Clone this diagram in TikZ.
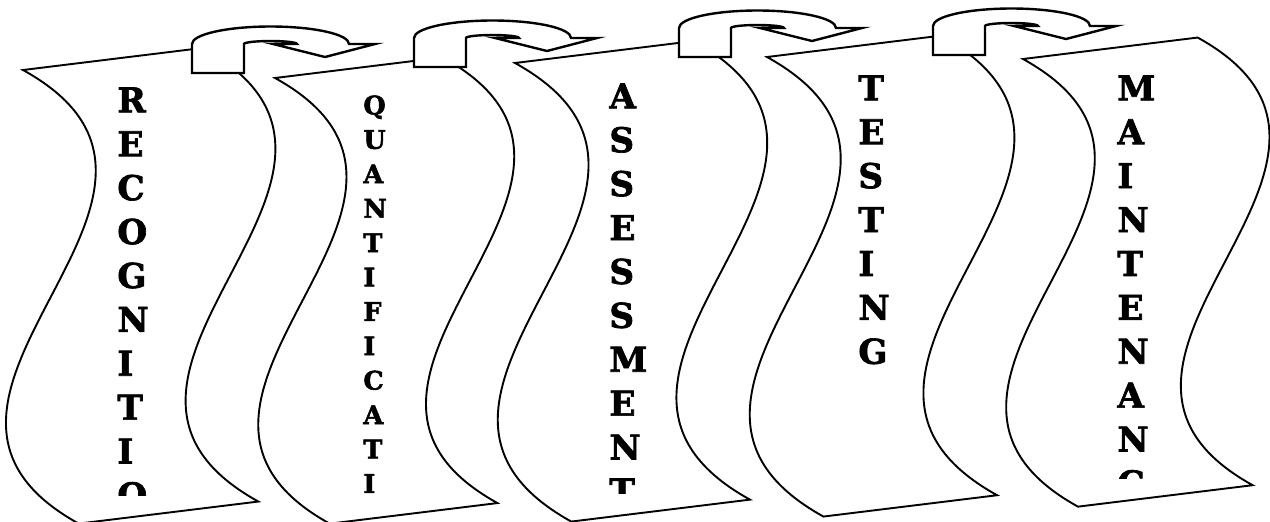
\documentclass[tikz,border=0pt]{standalone}
\usepackage{fontspec}
\setmainfont{DejaVu Serif}[BoldFeatures={FakeBold=2}]

\begin{document}
\begin{tikzpicture}[
  x=0.5pt, y=-0.5pt,
  wave/.style ={draw, line width=0.95pt, fill=white},
  uturn/.style={draw, line width=1.2pt, fill=white},
  word/.style ={anchor=north west, inner sep=0pt, align=left,
                font=\bfseries\fontsize{17.1}{21.95}\selectfont},
  small/.style={word, font=\bfseries\fontsize{12.8}{17.2}\selectfont},
  % wave banner: width #1, height #2, top-left corner at the origin
  pics/banner/.style 2 args={code={
    \path[wave] (0,0) -- (#1,0)
      .. controls (#1+0.46*#2,#2/3) and (#1-0.46*#2,2*#2/3) .. (#1,#2)
      -- (0,#2)
      .. controls (-0.46*#2,2*#2/3) and (0.46*#2,#2/3) .. cycle;
  }},
  % u-turn arrow, origin at the bottom left of its post
  pics/turn/.style={code={
    \path[uturn] (0,0) -- (0,-29)
      arc[start angle=180, end angle=360, x radius=78.5, y radius=17.5]
      -- (183,-29) -- (133,-16) -- (81,-29) -- (105,-29)
      arc[start angle=360, end angle=180, x radius=26.5, y radius=3]
      -- (52,0) -- cycle;
  }}
]
\useasboundingbox (0,0) rectangle (1270,521);

\pic[rotate=7] at (23,70)   {banner={181}{457}};
\pic[rotate=7] at (275,78)  {banner={169}{449}};
\pic[rotate=7] at (515,63)  {banner={180}{462}};
\pic[rotate=7] at (767,57)  {banner={175}{463}};
\pic[rotate=7] at (1023,59) {banner={176}{451}};

\pic at (192,73) {turn};
\pic at (414,67) {turn};
\pic at (679,57) {turn};
\pic at (933,55) {turn};

\begin{scope}
  \clip (100,60) rectangle (180,495);
  \node[word] (rec) at (117,87) {R\\E\\C\\O\\G\\N\\I\\T\\I\\O};
\end{scope}
\node[small] (qua) at (363,95) {Q\\U\\A\\N\\T\\I\\F\\I\\C\\A\\T\\I};
\begin{scope}
  \clip (590,60) rectangle (680,493);
  \node[word] (ass) at (609,83) {A\\S\\S\\E\\S\\S\\M\\E\\N\\T};
\end{scope}
\node[word] (tes) at (858,75) {T\\E\\S\\T\\I\\N\\G};
\begin{scope}
  \clip (1100,60) rectangle (1180,478);
  \node[word] (mai) at (1117,75) {M\\A\\I\\N\\T\\E\\N\\A\\N\\C};
\end{scope}

\end{tikzpicture}
\end{document}
